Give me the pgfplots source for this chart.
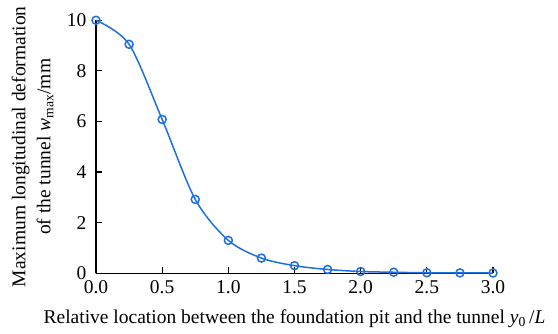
\documentclass[border=0pt]{standalone}
\usepackage{pgfplots}
\pgfplotsset{compat=1.18}
\usepackage{fontspec}
\setmainfont{Liberation Serif}
\definecolor{lineblue}{RGB}{30,112,222}
\begin{document}
\fontsize{19.5bp}{23bp}\selectfont
\begin{tikzpicture}
\path (-96bp,-60bp) rectangle (462bp,271bp);
\begin{axis}[
  scale only axis,
  width=397bp, height=253bp,
  xmin=0, xmax=3, ymin=0, ymax=10,
  axis x line=bottom, axis y line=left,
  axis line style={-, line width=1.3bp},
  xtick={0,0.5,...,3}, ytick={0,2,...,10},
  xticklabel style={yshift=-1bp, /pgf/number format/.cd,fixed,fixed zerofill,precision=1},
  yticklabel style={xshift=-3bp},
  /pgf/number format/assume math mode=true,
  tick align=inside,
  major tick length=6bp,
  tick style={black, line width=1.2bp},
  ticklabel style={font=\fontsize{19.5bp}{23bp}\selectfont},
  xlabel={Relative location between the foundation pit and the tunnel \textit{y}\textsubscript{0}\,/\textit{L}},
  ylabel={Maximum longitudinal deformation\\of the tunnel \textit{w}\textsubscript{max}/mm},
  xlabel style={font=\fontsize{19.5bp}{23bp}\selectfont, yshift=-2bp},
  ylabel style={font=\fontsize{19.5bp}{25bp}\selectfont, align=center, yshift=0bp},
  clip=false,
]
\addplot[lineblue, line width=1.5bp, smooth, tension=0.5, mark=o, mark size=4bp, mark options={line width=1.5bp, fill=white}]
coordinates {
(0,10) (0.25,9.05) (0.5,6.08) (0.75,2.92) (1.0,1.30) (1.25,0.60) (1.5,0.30)
(1.75,0.15) (2.0,0.07) (2.25,0.04) (2.5,0.02) (2.75,0.015) (3.0,0.01)
};
\end{axis}
\end{tikzpicture}
\end{document}
